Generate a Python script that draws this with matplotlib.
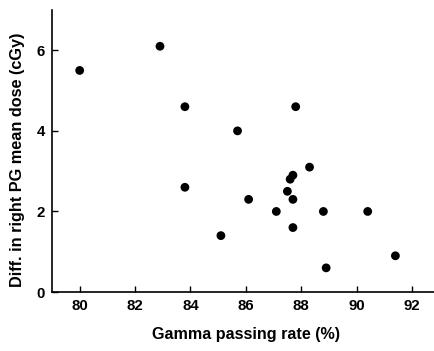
import matplotlib
matplotlib.use("Agg")
import matplotlib.pyplot as plt

gamma_rate = [80.0, 82.9, 83.8, 83.8, 85.7, 85.1, 86.1, 87.1, 87.5, 87.6,
              87.7, 87.7, 87.7, 87.8, 88.3, 88.8, 88.9, 90.4, 91.4]
dose_diff = [5.5, 6.1, 4.6, 2.6, 4.0, 1.4, 2.3, 2.0, 2.5, 2.8,
             2.9, 2.3, 1.6, 4.6, 3.1, 2.0, 0.6, 2.0, 0.9]
xticks = [80, 82, 84, 86, 88, 90, 92]
yticks = [0, 2, 4, 6]

plt.rcParams['font.family'] = ['Liberation Sans', 'DejaVu Sans']
plt.rcParams['font.weight'] = 'bold'

fig = plt.figure(figsize=(4.35, 3.51), dpi=100)
ax = fig.add_axes([0.1195, 0.168, 0.8805, 0.8035])
ax.scatter(gamma_rate, dose_diff, s=40, color='black', edgecolors='none', zorder=3)
ax.set_xlim(79.0, 92.83)
ax.set_ylim(0, 7)
ax.set_xticks(xticks)
ax.set_yticks(yticks)
ax.tick_params(direction='in', length=4, width=1, labelsize=10.8, pad=5)
for lab in ax.get_xticklabels() + ax.get_yticklabels():
    lab.set_fontweight('bold')
ax.spines['top'].set_visible(False)
ax.spines['right'].set_visible(False)
ax.spines['left'].set_linewidth(1.2)
ax.spines['bottom'].set_linewidth(1.2)
ax.set_xlabel('Gamma passing rate (%)', fontsize=11.6, fontweight='bold')
ax.set_ylabel('Diff. in right PG mean dose (cGy)', fontsize=11.7, fontweight='bold')
ax.xaxis.set_label_coords(0.5065, -0.125)
ax.yaxis.set_label_coords(-0.07, 0.468)
fig.savefig('out.png', dpi=100)
